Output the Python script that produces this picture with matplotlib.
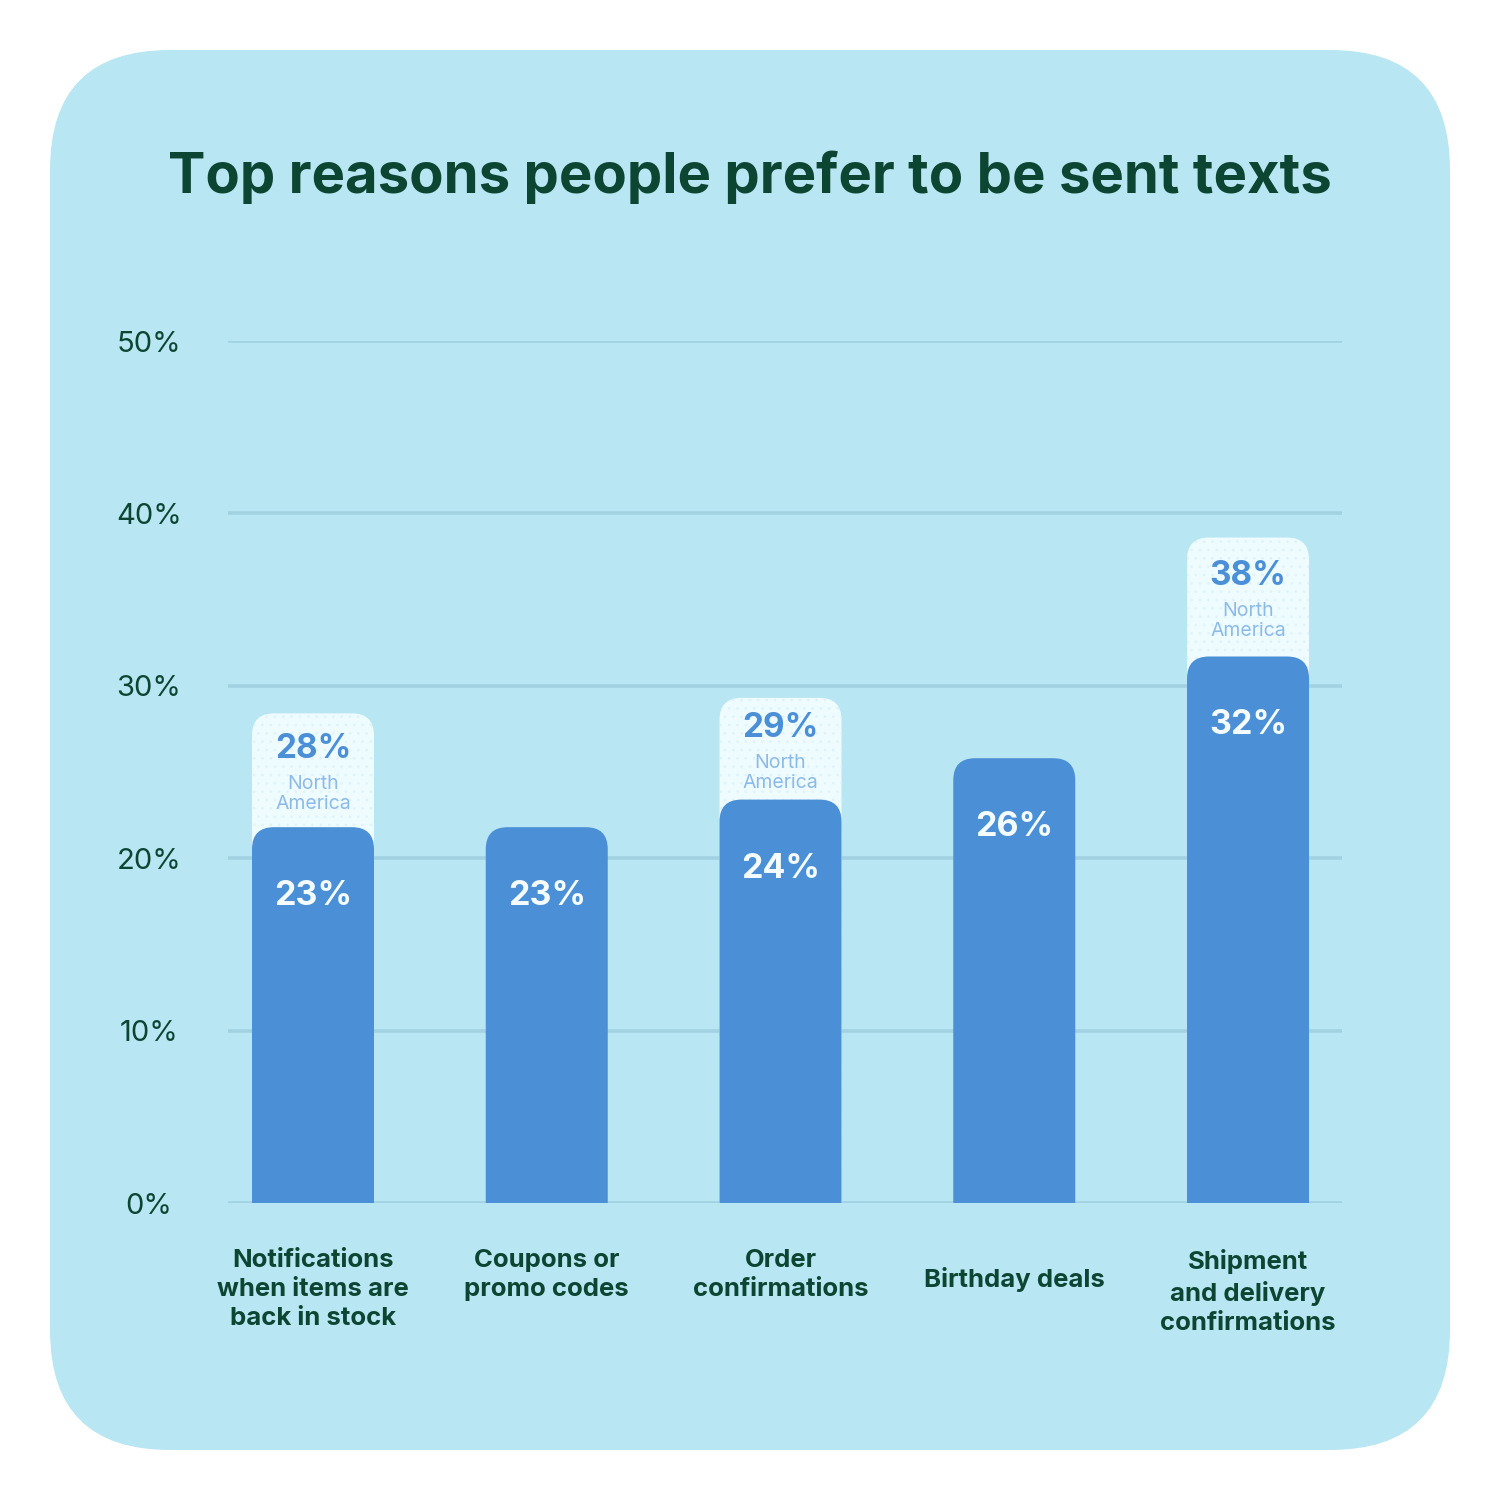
import matplotlib
matplotlib.use('Agg')
import matplotlib.pyplot as plt
from matplotlib.patches import FancyBboxPatch

plt.rcParams['font.family'] = ['Inter', 'DejaVu Sans']

# data
categories = ['Notifications\nwhen items are\nback in stock', 'Coupons or\npromo codes',
              'Order\nconfirmations', 'Birthday deals',
              'Shipment\nand delivery\nconfirmations']
global_vals = [21.8, 21.8, 23.4, 25.8, 31.7]       # drawn bar heights
global_labels = ['23%', '23%', '24%', '26%', '32%']
na_vals = [28.4, None, 29.3, None, 38.6]            # North America heights
na_labels = ['28%', None, '29%', None, '38%']
yticks = [0, 10, 20, 30, 40, 50]

BG = '#b8e6f2'
BAR = '#4b8fd6'
NA_BOX = '#eefbff'
DARK = '#0d4533'
GRID = '#a2d2e2'
NA_TXT = '#8dbbe8'

fig = plt.figure(figsize=(15, 15), dpi=100)
fig.patch.set_facecolor('white')

# rounded card
card = FancyBboxPatch((50 / 1500, 50 / 1500), 1400 / 1500, 1400 / 1500,
                      boxstyle='round,pad=0,rounding_size=0.08',
                      transform=fig.transFigure, facecolor=BG, edgecolor='none', zorder=-5)
fig.patches.append(card)

fig.text(0.5, 1 - 177 / 1500, 'Top reasons people prefer to be sent texts',
         ha='center', va='center', fontsize=40.5, fontweight='bold', color=DARK)

ax = fig.add_axes([228 / 1500, 297 / 1500, 1114 / 1500, 862 / 1500], zorder=2)
ax.set_facecolor('none')
ax.set_ylim(0, 50)
ax.set_xlim(-0.3636, 4.402)

for s in ax.spines.values():
    s.set_visible(False)
ax.set_yticks(yticks)
ax.set_yticklabels([f'{v}%' for v in yticks])
ax.tick_params(axis='y', length=0, pad=57, labelsize=21, labelcolor=DARK)
for lab in ax.get_yticklabels():
    lab.set_ha('center')
ax.grid(axis='y', color=GRID, linewidth=2.6, zorder=0)
ax.set_axisbelow(True)
ax.set_xticks([])

px_x = 1114 / (4.402 + 0.3636)
px_y = 862 / 50
aspect = px_x / px_y
width = 122 / px_x
rad = 22 / px_x

plt.rcParams['hatch.linewidth'] = 0.7

for i, (g, gl, na, nal, cat) in enumerate(zip(global_vals, global_labels, na_vals, na_labels, categories)):
    if na is not None:
        box = FancyBboxPatch((i - width / 2, -5), width, na + 5,
                             boxstyle=f'round,pad=0,rounding_size={rad}',
                             mutation_aspect=aspect, facecolor=NA_BOX,
                             edgecolor='#e0f3f9', hatch='..', linewidth=0, zorder=2)
        ax.add_patch(box)
        mid = (na + g) / 2
        ax.annotate(nal, (i, mid), xytext=(0, 21), textcoords='offset pixels',
                    ha='center', va='center', fontsize=24, fontweight='bold', color=BAR, zorder=5)
        ax.annotate('North', (i, mid), xytext=(0, -14), textcoords='offset pixels',
                    ha='center', va='center', fontsize=14, color=NA_TXT, zorder=5)
        ax.annotate('America', (i, mid), xytext=(0, -34), textcoords='offset pixels',
                    ha='center', va='center', fontsize=14, color=NA_TXT, zorder=5)
    bar = FancyBboxPatch((i - width / 2, -5), width, g + 5,
                         boxstyle=f'round,pad=0,rounding_size={rad}',
                         mutation_aspect=aspect, facecolor=BAR, edgecolor='none', zorder=3)
    ax.add_patch(bar)
    ax.annotate(gl, (i, g), xytext=(0, -69), textcoords='offset pixels',
                ha='center', va='center', fontsize=24.5, fontweight='bold', color='#f4fcff', zorder=5)

    # category labels
    if '\n' in cat:
        ax.annotate(cat, (i, 0), xytext=(0, -46), textcoords='offset pixels',
                    ha='center', va='top', fontsize=18.5, fontweight='bold', color=DARK,
                    linespacing=1.33, annotation_clip=False)
    else:
        ax.annotate(cat, (i, 0), xytext=(0, -77), textcoords='offset pixels',
                    ha='center', va='center', fontsize=18.5, fontweight='bold', color=DARK,
                    annotation_clip=False)

fig.savefig('out.png', dpi=100, facecolor='white')
